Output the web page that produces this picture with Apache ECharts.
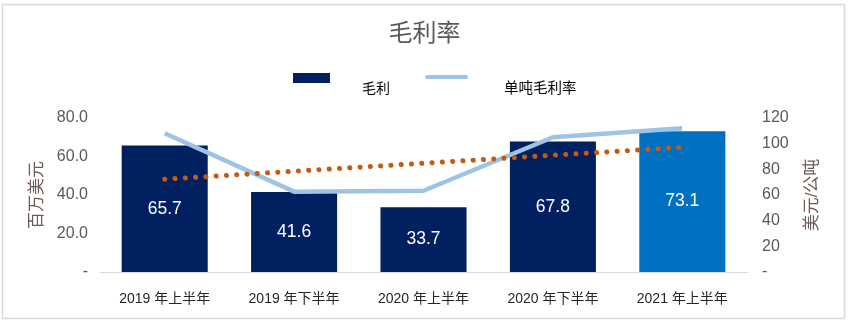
<!DOCTYPE html>
<html>
<head>
<meta charset="utf-8">
<script src="https://cdn.jsdelivr.net/npm/echarts@6/dist/echarts.min.js"></script>
<style>
html,body{margin:0;padding:0;background:#fff;}
#c{width:849px;height:322px;}
</style>
</head>
<body>
<div id="c"></div>
<script>
const categories = ['2019 年上半年', '2019 年下半年', '2020 年上半年', '2020 年下半年', '2021 年上半年'];
const grossProfit = [65.7, 41.6, 33.7, 67.8, 73.1];
const perTonMargin = [108.1, 62.6, 63.3, 105.0, 112.0];
const trendEnds = [48.2, null, null, null, 64.8];
const leftTicks = [0, 20, 80];
const title = '毛利率';
const legendNames = ['毛利', '单吨毛利率'];

const FONT = '"Liberation Sans", "Noto Sans CJK SC", sans-serif';
const chart = echarts.init(document.getElementById('c'), null, {renderer: 'canvas'});

const barData = grossProfit.map((v, i) => ({
  value: v,
  itemStyle: {color: i === grossProfit.length - 1 ? '#0070C0' : '#002060'}
}));

chart.setOption({
  backgroundColor: '#ffffff',
  animation: false,
  title: {
    text: title, left: 'center', top: 17,
    textStyle: {color: '#595959', fontSize: 24, fontWeight: 'normal', fontFamily: FONT}
  },
  grid: {left: 100, right: 102, top: 118, bottom: 50},
  xAxis: {
    type: 'category', data: categories,
    axisLine: {lineStyle: {color: '#D9D9D9', width: 1}},
    axisTick: {show: false},
    axisLabel: {color: '#262626', fontSize: 14, fontFamily: FONT, margin: 20}
  },
  yAxis: [{
    type: 'value', min: leftTicks[0], max: leftTicks[2], interval: leftTicks[1],
    name: '百万美元', nameLocation: 'middle', nameGap: 52, nameRotate: 90,
    nameTextStyle: {color: '#6E5A52', fontSize: 17, fontFamily: FONT},
    axisLine: {show: false}, axisTick: {show: false}, splitLine: {show: false},
    axisLabel: {color: '#595959', fontSize: 16, fontFamily: FONT, margin: 12,
      formatter: v => v === 0 ? '-' : v.toFixed(1)}
  }, {
    type: 'value', min: 0, max: 120, interval: 20, position: 'right',
    name: '美元/公吨', nameLocation: 'middle', nameGap: 57, nameRotate: 90,
    nameTextStyle: {color: '#6E5A52', fontSize: 17, fontFamily: FONT},
    axisLine: {show: false}, axisTick: {show: false}, splitLine: {show: false},
    axisLabel: {color: '#595959', fontSize: 16, fontFamily: FONT, margin: 15,
      formatter: v => v === 0 ? '-' : String(v)}
  }],
  series: [{
    name: legendNames[0], type: 'bar', data: barData, barWidth: '66.5%',
    label: {show: true, position: 'inside', color: '#ffffff', fontSize: 17.5, fontFamily: FONT,
      formatter: p => p.value.toFixed(1)}
  }, {
    name: legendNames[1], type: 'line', yAxisIndex: 1, data: perTonMargin,
    symbol: 'none', lineStyle: {color: '#9DC3E6', width: 4.5, join: 'round'}, z: 3
  }, {
    name: 'trend', type: 'line', yAxisIndex: 0, data: trendEnds, connectNulls: true,
    symbol: 'none', lineStyle: {color: '#C55A11', width: 5, type: [0.1, 10.2], cap: 'round'}, z: 4
  }],
  graphic: [
    {type: 'rect', shape: {x: 2.5, y: 4.5, width: 842, height: 314},
      style: {fill: null, stroke: '#D9D9D9', lineWidth: 1.5}, silent: true},
    {type: 'rect', shape: {x: 293, y: 73, width: 37, height: 10}, style: {fill: '#002060'}},
    {type: 'text', x: 362, y: 89, style: {text: legendNames[0], fill: '#000', font: '14px ' + FONT, textVerticalAlign: 'middle'}},
    {type: 'line', shape: {x1: 427, y1: 77, x2: 466, y2: 77}, style: {stroke: '#9DC3E6', lineWidth: 4, lineCap: 'round'}},
    {type: 'text', x: 504, y: 89, style: {text: legendNames[1], fill: '#000', font: '14.5px ' + FONT, textVerticalAlign: 'middle'}}
  ]
});
</script>
</body>
</html>
